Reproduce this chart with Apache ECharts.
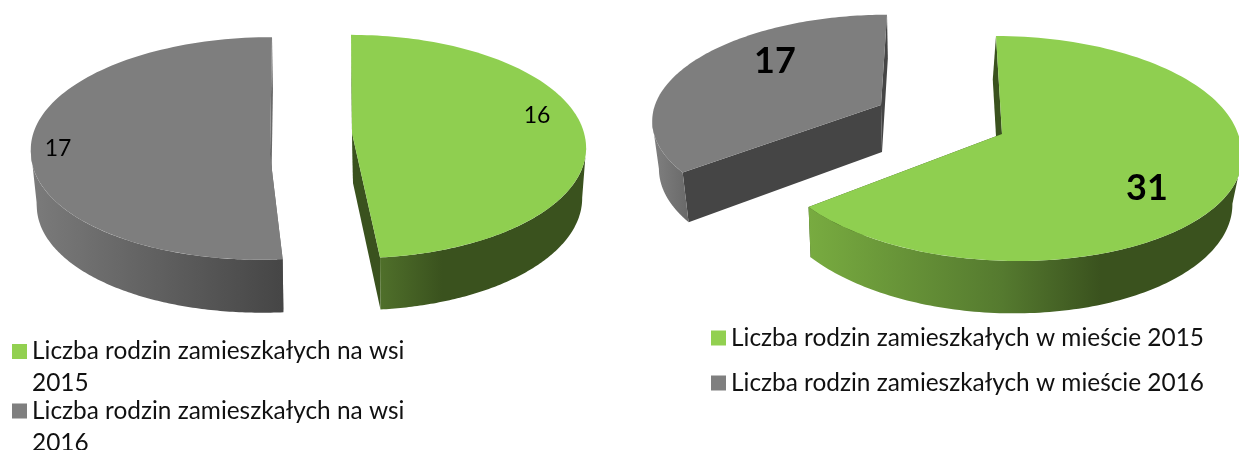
<!DOCTYPE html>
<html><head><meta charset="utf-8">
<style>html,body{margin:0;padding:0;background:#fff}#c{width:1239px;height:450px}</style>
<script src="https://cdn.jsdelivr.net/npm/echarts@6/dist/echarts.min.js"></script>
</head><body><div id="c"></div>
<script>
const villageNames = ['Liczba rodzin zamieszkałych na wsi 2015', 'Liczba rodzin zamieszkałych na wsi 2016'];
const villageValues = [16, 17];
const cityNames = ['Liczba rodzin zamieszkałych w mieście 2015', 'Liczba rodzin zamieszkałych w mieście 2016'];
const cityValues = [31, 17];

const GREEN = '#92d050', GRAY = '#7f7f7f', FONT = 'Lato';
const greenDark = '#3a521e';

// Exploded-slice camera: apex, radii, perspective k, lean, and the floor's offset/scale.
const views = [
  {name: villageNames[0], values: villageValues, idx: 0, color: GREEN, face: '#8fcf50', cx: 352, cy: 133, rx: 232, ry: 110, k: .121, lb: -1, lf: 3,
   dx: 1, dy: 50, sx: .979, sy: 1.016, cut: greenDark, wallFrom: 381, wallTo: 585,
   stops: [[0, '#4f6f2a'], [.3, greenDark], [1, greenDark]], label: [185, -17], bold: false},
  {name: villageNames[1], values: villageValues, idx: 1, color: GRAY, face: '#7e7e7e', cx: 270, cy: 154, rx: 239, ry: 111, k: -.05, lb: 2, lf: -9,
   dx: 1, dy: 53, sx: .98, sy: 1.0, cut: '#6a6a6a', wallFrom: 31, wallTo: 285,
   stops: [[0, '#7b7b7b'], [1, '#454545']], label: [-212, -5], bold: false},
  {name: cityNames[0], values: cityValues, idx: 0, color: GREEN, face: '#8fcf50', cx: 1002, cy: 134, rx: 236, ry: 110.6, k: .129, lb: -6, lf: 16,
   dx: -3.4, dy: 47.3, sx: .972, sy: 1.04, cut: greenDark, wallFrom: 809, wallTo: 1238,
   stops: [[0, '#78ab40'], [.45, '#557a2f'], [.68, greenDark], [1, greenDark]], label: [145, 54], bold: true},
  {name: cityNames[1], values: cityValues, idx: 1, color: GRAY, face: '#7e7e7e', cx: 881, cy: 105, rx: 226, ry: 102, k: .13, lb: 6, lf: -6,
   dx: 1, dy: 47, sx: .975, sy: 1.04, cut: '#454545', wallFrom: 653, wallTo: 690,
   stops: [[0, '#808080'], [1, '#686868']], label: [-106, -44], bold: true}
];

function sliceRange(view) {
  const total = view.values.reduce((a, b) => a + b, 0);
  const before = view.values.slice(0, view.idx).reduce((a, b) => a + b, 0);
  return [before / total * 2 * Math.PI, (before + view.values[view.idx]) / total * 2 * Math.PI];
}
function topPoint(view, t) {
  const u = Math.sin(t), v = Math.cos(t), w = 1 + view.k * v;
  const lean = v > 0 ? view.lb * v : view.lf * -v;
  return [view.rx * u / w + lean, -view.ry * v / w];
}
function onTop(view, p) { return [view.cx + p[0], view.cy + p[1]]; }
function onFloor(view, p) { return [view.cx + view.dx + p[0] * view.sx, view.cy + view.dy + p[1] * view.sy]; }

// Angles where the rim reaches its right and left extremes: the outer wall's visible range.
function silhouette(view) {
  let right = 0, left = 0, maxX = -Infinity, minX = Infinity;
  for (let i = 0; i < 720; i++) {
    const t = i / 720 * 2 * Math.PI, x = topPoint(view, t)[0];
    if (x > maxX) { maxX = x; right = t; }
    if (x < minX) { minX = x; left = t; }
  }
  return [right, left];
}

function renderSlice(view, api) {
  const span = sliceRange(view), value = api.value(0);
  const a0 = span[0], a1 = span[1], n = 120;
  const sample = (from, to) => {
    const out = [];
    for (let i = 0; i <= n; i++) out.push(topPoint(view, from + (to - from) * i / n));
    return out;
  };
  const arc = sample(a0, a1);
  const sil = silhouette(view);
  const wall = sample(Math.max(a0, sil[0]), Math.min(a1, sil[1]));
  const topArc = arc.map(p => onTop(view, p));
  const wallTop = wall.map(p => onTop(view, p)), wallFloor = wall.map(p => onFloor(view, p));
  const apexT = [view.cx, view.cy], apexF = onFloor(view, [0, 0]);
  const fill = c => ({fill: c, stroke: null});
  const poly = (points, style) => ({type: 'polygon', shape: {points}, style});
  const wallFill = {type: 'linear', x: view.wallFrom, y: 0, x2: view.wallTo, y2: 0, global: true,
    colorStops: view.stops.map(s => ({offset: s[0], color: s[1]}))};
  return {type: 'group', children: [
    poly([apexT, topArc[0], onFloor(view, arc[0]), apexF], fill(view.cut)),
    poly([apexT, topArc[n], onFloor(view, arc[n]), apexF], fill(view.cut)),
    poly(wallTop.concat(wallFloor.slice().reverse()), fill(wallFill)),
    poly([apexT].concat(topArc), fill(view.face)),
    {type: 'text', x: view.cx + view.label[0], y: view.cy + view.label[1], z2: 10, style: {
      text: String(value), fill: '#000', align: 'center', verticalAlign: 'middle',
      font: (view.bold ? 'bold 36px ' : '23px ') + FONT}}
  ]};
}

const block = 'path://M0 0H15V15H0Z M0 47L15 47';
const legendText = {fontFamily: FONT, fontSize: 24.4, color: '#111', lineHeight: 32};
const twoLines = name => name.replace(/ (\d{4})$/, '\n$1');
const legends = [
  {left: 12, top: 335.5, data: [{name: villageNames[0], icon: block}], itemHeight: 47, formatter: twoLines},
  {left: 12, top: 395, data: [{name: villageNames[1], icon: block}], itemHeight: 47, formatter: twoLines},
  {left: 711, top: 322, data: [{name: cityNames[0], icon: 'rect'}], itemHeight: 15},
  {left: 711, top: 367, data: [{name: cityNames[1], icon: 'rect'}], itemHeight: 15}
].map(l => Object.assign({padding: 0, itemWidth: 15, selectedMode: false, orient: 'vertical', textStyle: legendText}, l));

echarts.init(document.getElementById('c'), null, {renderer: 'canvas'}).setOption({
  animation: false,
  backgroundColor: '#fff',
  legend: legends,
  series: views.map(view => ({
    type: 'custom', name: view.name, coordinateSystem: 'none', silent: true,
    itemStyle: {color: view.color},
    data: [view.values[view.idx]],
    renderItem: (params, api) => renderSlice(view, api)
  }))
});
</script></body></html>
